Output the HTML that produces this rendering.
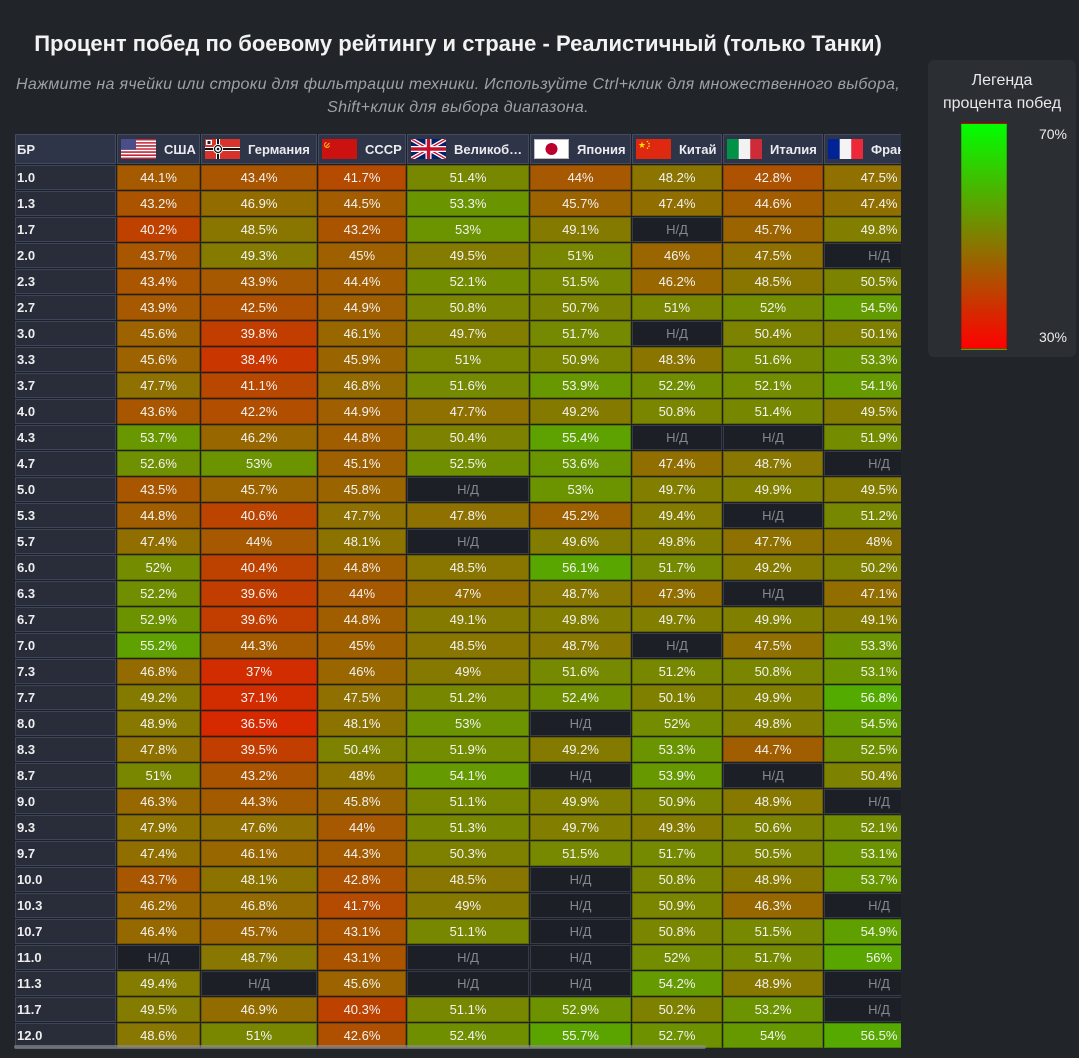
<!DOCTYPE html>
<html><head><meta charset="utf-8">
<style>
html,body{margin:0;padding:0;}
body{width:1079px;height:1058px;background:#212428;position:relative;overflow:hidden;font-family:"Liberation Sans","Noto Sans CJK SC",sans-serif;}
.title{position:absolute;left:0;top:31px;width:916px;text-align:center;font-weight:bold;font-size:22px;line-height:26px;color:#f2f2f2;white-space:nowrap;}
.sub{position:absolute;left:0;top:73px;width:916px;text-align:center;font-style:italic;font-size:16px;letter-spacing:0.3px;line-height:23px;color:#9ea1a7;white-space:nowrap;}
.g{position:absolute;left:15px;top:134px;width:886px;height:914px;overflow:hidden;display:grid;grid-template-columns:101px 83px 116px 88px 122px 101px 90px 100px 110px;grid-template-rows:30px;grid-auto-rows:25px;gap:1px;background:#1d2025;}
.g>div{box-sizing:border-box;border:1px solid rgba(0,0,0,.22);display:flex;align-items:center;justify-content:center;font-size:13px;color:#f3f3f3;white-space:nowrap;overflow:hidden;background:rgb(calc(6.375*(70 - var(--v))),calc(6.375*(var(--v) - 30)),0);}
.g>.h{background:#2f3548;border-color:#444b61;justify-content:flex-start;padding-left:3px;font-weight:bold;color:#ececf0;}
.g>.h svg{flex:none;margin-right:8px;display:block;}
.g>.h0{padding-left:1px;}
.g>.r{background:#292d3a;border-color:#3e4459;justify-content:flex-start;padding-left:1px;font-weight:bold;color:#eeeeee;}
.g>.na{background:#1c1f25;border-color:#363b4a;color:#85888e;}
.sb{position:absolute;left:14px;top:1045px;width:692px;height:4px;background:rgba(140,142,146,.65);border-radius:2px;}
.leg{position:absolute;left:928px;top:60px;width:148px;height:297px;background:#2b2e33;border-radius:6px;}
.legt{position:absolute;left:0;top:9px;width:148px;text-align:center;font-size:16px;line-height:23px;color:#e8e8e8;white-space:nowrap;}
.bar{position:absolute;left:33px;top:63px;width:46px;height:227px;box-sizing:border-box;border:1px solid rgba(0,0,0,.18);background:linear-gradient(#00ff00,#ff0000);}
.lab{position:absolute;right:9px;font-size:14px;color:#ececec;line-height:16px;}
</style></head><body>
<div class="title">Процент побед по боевому рейтингу и стране - Реалистичный (только Танки)</div>
<div class="sub">Нажмите на ячейки или строки для фильтрации техники. Используйте Ctrl+клик для множественного выбора,<br>Shift+клик для выбора диапазона.</div>

<div class="g">
<div class="h h0">БР</div>
<div class="h"><svg width="35" height="20" viewBox="0 0 35 20"><rect width="35" height="20" fill="#fff"/><path d="M0 0h35v1.54H0zM0 3.08h35v1.54H0zM0 6.15h35v1.54H0zM0 9.23h35v1.54H0zM0 12.3h35v1.54H0zM0 15.4h35v1.54H0zM0 18.46h35v1.54H0z" fill="#c0283a"/><rect width="15" height="10.8" fill="#4a4f8a"/></svg>США</div>
<div class="h"><svg width="35" height="20" viewBox="0 0 35 20"><rect width="35" height="20" fill="#d8332a"/><rect y="8" width="35" height="4" fill="#fff"/><rect x="11" width="4" height="20" fill="#fff"/><rect y="9" width="35" height="2" fill="#111"/><rect x="12" width="2" height="20" fill="#111"/><circle cx="13" cy="10" r="5" fill="#fff"/><circle cx="13" cy="10" r="3.5" fill="none" stroke="#111" stroke-width="1.2"/><circle cx="13" cy="10" r="1.3" fill="#111"/><rect x="1" y="1" width="6" height="5" fill="#fff"/><rect x="2.5" y="2" width="3" height="3" fill="#222"/></svg>Германия</div>
<div class="h"><svg width="35" height="20" viewBox="0 0 35 20"><rect width="35" height="20" fill="#cc1111"/><path d="M4 7.5l3.5-3.5" stroke="#f5c518" stroke-width="1"/><path d="M4.5 3.5a2.5 2.5 0 1 0 3 3" fill="none" stroke="#f5c518" stroke-width="0.9"/></svg>СССР</div>
<div class="h"><svg width="35" height="20" viewBox="0 0 35 20"><rect width="35" height="20" fill="#012169"/><path d="M0 0L35 20M35 0L0 20" stroke="#fff" stroke-width="4"/><path d="M0 0L35 20M35 0L0 20" stroke="#c8102e" stroke-width="1.4"/><path d="M17.5 0v20M0 10h35" stroke="#fff" stroke-width="6"/><path d="M17.5 0v20M0 10h35" stroke="#c8102e" stroke-width="3.4"/></svg>Великоб…</div>
<div class="h"><svg width="35" height="20" viewBox="0 0 35 20"><rect x="0.5" y="0.5" width="34" height="19" fill="#fff" stroke="#bbb"/><circle cx="17.5" cy="10" r="6" fill="#bc002d"/></svg>Япония</div>
<div class="h"><svg width="35" height="20" viewBox="0 0 35 20"><rect width="35" height="20" fill="#de2910"/><polygon points="6,2.5 6.8,5 9.3,5 7.3,6.5 8.1,9 6,7.5 3.9,9 4.7,6.5 2.7,5 5.2,5" fill="#ffde00"/><circle cx="11.5" cy="2.5" r="0.8" fill="#ffde00"/><circle cx="13" cy="4.6" r="0.8" fill="#ffde00"/><circle cx="13" cy="7.2" r="0.8" fill="#ffde00"/><circle cx="11.5" cy="9.2" r="0.8" fill="#ffde00"/></svg>Китай</div>
<div class="h"><svg width="35" height="20" viewBox="0 0 35 20"><rect width="11.7" height="20" fill="#009246"/><rect x="11.7" width="11.7" height="20" fill="#f1f2f1"/><rect x="23.3" width="11.7" height="20" fill="#ce2b37"/></svg>Италия</div>
<div class="h"><svg width="35" height="20" viewBox="0 0 35 20"><rect width="11.7" height="20" fill="#002395"/><rect x="11.7" width="11.7" height="20" fill="#f4f4f4"/><rect x="23.3" width="11.7" height="20" fill="#ed2939"/></svg>Франция</div>

<div class="r">1.0</div><div style="--v:44.1">44.1%</div><div style="--v:43.4">43.4%</div><div style="--v:41.7">41.7%</div><div style="--v:51.4">51.4%</div><div style="--v:44">44%</div><div style="--v:48.2">48.2%</div><div style="--v:42.8">42.8%</div><div style="--v:47.5">47.5%</div>
<div class="r">1.3</div><div style="--v:43.2">43.2%</div><div style="--v:46.9">46.9%</div><div style="--v:44.5">44.5%</div><div style="--v:53.3">53.3%</div><div style="--v:45.7">45.7%</div><div style="--v:47.4">47.4%</div><div style="--v:44.6">44.6%</div><div style="--v:47.4">47.4%</div>
<div class="r">1.7</div><div style="--v:40.2">40.2%</div><div style="--v:48.5">48.5%</div><div style="--v:43.2">43.2%</div><div style="--v:53">53%</div><div style="--v:49.1">49.1%</div><div class="na">Н/Д</div><div style="--v:45.7">45.7%</div><div style="--v:49.8">49.8%</div>
<div class="r">2.0</div><div style="--v:43.7">43.7%</div><div style="--v:49.3">49.3%</div><div style="--v:45">45%</div><div style="--v:49.5">49.5%</div><div style="--v:51">51%</div><div style="--v:46">46%</div><div style="--v:47.5">47.5%</div><div class="na">Н/Д</div>
<div class="r">2.3</div><div style="--v:43.4">43.4%</div><div style="--v:43.9">43.9%</div><div style="--v:44.4">44.4%</div><div style="--v:52.1">52.1%</div><div style="--v:51.5">51.5%</div><div style="--v:46.2">46.2%</div><div style="--v:48.5">48.5%</div><div style="--v:50.5">50.5%</div>
<div class="r">2.7</div><div style="--v:43.9">43.9%</div><div style="--v:42.5">42.5%</div><div style="--v:44.9">44.9%</div><div style="--v:50.8">50.8%</div><div style="--v:50.7">50.7%</div><div style="--v:51">51%</div><div style="--v:52">52%</div><div style="--v:54.5">54.5%</div>
<div class="r">3.0</div><div style="--v:45.6">45.6%</div><div style="--v:39.8">39.8%</div><div style="--v:46.1">46.1%</div><div style="--v:49.7">49.7%</div><div style="--v:51.7">51.7%</div><div class="na">Н/Д</div><div style="--v:50.4">50.4%</div><div style="--v:50.1">50.1%</div>
<div class="r">3.3</div><div style="--v:45.6">45.6%</div><div style="--v:38.4">38.4%</div><div style="--v:45.9">45.9%</div><div style="--v:51">51%</div><div style="--v:50.9">50.9%</div><div style="--v:48.3">48.3%</div><div style="--v:51.6">51.6%</div><div style="--v:53.3">53.3%</div>
<div class="r">3.7</div><div style="--v:47.7">47.7%</div><div style="--v:41.1">41.1%</div><div style="--v:46.8">46.8%</div><div style="--v:51.6">51.6%</div><div style="--v:53.9">53.9%</div><div style="--v:52.2">52.2%</div><div style="--v:52.1">52.1%</div><div style="--v:54.1">54.1%</div>
<div class="r">4.0</div><div style="--v:43.6">43.6%</div><div style="--v:42.2">42.2%</div><div style="--v:44.9">44.9%</div><div style="--v:47.7">47.7%</div><div style="--v:49.2">49.2%</div><div style="--v:50.8">50.8%</div><div style="--v:51.4">51.4%</div><div style="--v:49.5">49.5%</div>
<div class="r">4.3</div><div style="--v:53.7">53.7%</div><div style="--v:46.2">46.2%</div><div style="--v:44.8">44.8%</div><div style="--v:50.4">50.4%</div><div style="--v:55.4">55.4%</div><div class="na">Н/Д</div><div class="na">Н/Д</div><div style="--v:51.9">51.9%</div>
<div class="r">4.7</div><div style="--v:52.6">52.6%</div><div style="--v:53">53%</div><div style="--v:45.1">45.1%</div><div style="--v:52.5">52.5%</div><div style="--v:53.6">53.6%</div><div style="--v:47.4">47.4%</div><div style="--v:48.7">48.7%</div><div class="na">Н/Д</div>
<div class="r">5.0</div><div style="--v:43.5">43.5%</div><div style="--v:45.7">45.7%</div><div style="--v:45.8">45.8%</div><div class="na">Н/Д</div><div style="--v:53">53%</div><div style="--v:49.7">49.7%</div><div style="--v:49.9">49.9%</div><div style="--v:49.5">49.5%</div>
<div class="r">5.3</div><div style="--v:44.8">44.8%</div><div style="--v:40.6">40.6%</div><div style="--v:47.7">47.7%</div><div style="--v:47.8">47.8%</div><div style="--v:45.2">45.2%</div><div style="--v:49.4">49.4%</div><div class="na">Н/Д</div><div style="--v:51.2">51.2%</div>
<div class="r">5.7</div><div style="--v:47.4">47.4%</div><div style="--v:44">44%</div><div style="--v:48.1">48.1%</div><div class="na">Н/Д</div><div style="--v:49.6">49.6%</div><div style="--v:49.8">49.8%</div><div style="--v:47.7">47.7%</div><div style="--v:48">48%</div>
<div class="r">6.0</div><div style="--v:52">52%</div><div style="--v:40.4">40.4%</div><div style="--v:44.8">44.8%</div><div style="--v:48.5">48.5%</div><div style="--v:56.1">56.1%</div><div style="--v:51.7">51.7%</div><div style="--v:49.2">49.2%</div><div style="--v:50.2">50.2%</div>
<div class="r">6.3</div><div style="--v:52.2">52.2%</div><div style="--v:39.6">39.6%</div><div style="--v:44">44%</div><div style="--v:47">47%</div><div style="--v:48.7">48.7%</div><div style="--v:47.3">47.3%</div><div class="na">Н/Д</div><div style="--v:47.1">47.1%</div>
<div class="r">6.7</div><div style="--v:52.9">52.9%</div><div style="--v:39.6">39.6%</div><div style="--v:44.8">44.8%</div><div style="--v:49.1">49.1%</div><div style="--v:49.8">49.8%</div><div style="--v:49.7">49.7%</div><div style="--v:49.9">49.9%</div><div style="--v:49.1">49.1%</div>
<div class="r">7.0</div><div style="--v:55.2">55.2%</div><div style="--v:44.3">44.3%</div><div style="--v:45">45%</div><div style="--v:48.5">48.5%</div><div style="--v:48.7">48.7%</div><div class="na">Н/Д</div><div style="--v:47.5">47.5%</div><div style="--v:53.3">53.3%</div>
<div class="r">7.3</div><div style="--v:46.8">46.8%</div><div style="--v:37">37%</div><div style="--v:46">46%</div><div style="--v:49">49%</div><div style="--v:51.6">51.6%</div><div style="--v:51.2">51.2%</div><div style="--v:50.8">50.8%</div><div style="--v:53.1">53.1%</div>
<div class="r">7.7</div><div style="--v:49.2">49.2%</div><div style="--v:37.1">37.1%</div><div style="--v:47.5">47.5%</div><div style="--v:51.2">51.2%</div><div style="--v:52.4">52.4%</div><div style="--v:50.1">50.1%</div><div style="--v:49.9">49.9%</div><div style="--v:56.8">56.8%</div>
<div class="r">8.0</div><div style="--v:48.9">48.9%</div><div style="--v:36.5">36.5%</div><div style="--v:48.1">48.1%</div><div style="--v:53">53%</div><div class="na">Н/Д</div><div style="--v:52">52%</div><div style="--v:49.8">49.8%</div><div style="--v:54.5">54.5%</div>
<div class="r">8.3</div><div style="--v:47.8">47.8%</div><div style="--v:39.5">39.5%</div><div style="--v:50.4">50.4%</div><div style="--v:51.9">51.9%</div><div style="--v:49.2">49.2%</div><div style="--v:53.3">53.3%</div><div style="--v:44.7">44.7%</div><div style="--v:52.5">52.5%</div>
<div class="r">8.7</div><div style="--v:51">51%</div><div style="--v:43.2">43.2%</div><div style="--v:48">48%</div><div style="--v:54.1">54.1%</div><div class="na">Н/Д</div><div style="--v:53.9">53.9%</div><div class="na">Н/Д</div><div style="--v:50.4">50.4%</div>
<div class="r">9.0</div><div style="--v:46.3">46.3%</div><div style="--v:44.3">44.3%</div><div style="--v:45.8">45.8%</div><div style="--v:51.1">51.1%</div><div style="--v:49.9">49.9%</div><div style="--v:50.9">50.9%</div><div style="--v:48.9">48.9%</div><div class="na">Н/Д</div>
<div class="r">9.3</div><div style="--v:47.9">47.9%</div><div style="--v:47.6">47.6%</div><div style="--v:44">44%</div><div style="--v:51.3">51.3%</div><div style="--v:49.7">49.7%</div><div style="--v:49.3">49.3%</div><div style="--v:50.6">50.6%</div><div style="--v:52.1">52.1%</div>
<div class="r">9.7</div><div style="--v:47.4">47.4%</div><div style="--v:46.1">46.1%</div><div style="--v:44.3">44.3%</div><div style="--v:50.3">50.3%</div><div style="--v:51.5">51.5%</div><div style="--v:51.7">51.7%</div><div style="--v:50.5">50.5%</div><div style="--v:53.1">53.1%</div>
<div class="r">10.0</div><div style="--v:43.7">43.7%</div><div style="--v:48.1">48.1%</div><div style="--v:42.8">42.8%</div><div style="--v:48.5">48.5%</div><div class="na">Н/Д</div><div style="--v:50.8">50.8%</div><div style="--v:48.9">48.9%</div><div style="--v:53.7">53.7%</div>
<div class="r">10.3</div><div style="--v:46.2">46.2%</div><div style="--v:46.8">46.8%</div><div style="--v:41.7">41.7%</div><div style="--v:49">49%</div><div class="na">Н/Д</div><div style="--v:50.9">50.9%</div><div style="--v:46.3">46.3%</div><div class="na">Н/Д</div>
<div class="r">10.7</div><div style="--v:46.4">46.4%</div><div style="--v:45.7">45.7%</div><div style="--v:43.1">43.1%</div><div style="--v:51.1">51.1%</div><div class="na">Н/Д</div><div style="--v:50.8">50.8%</div><div style="--v:51.5">51.5%</div><div style="--v:54.9">54.9%</div>
<div class="r">11.0</div><div class="na">Н/Д</div><div style="--v:48.7">48.7%</div><div style="--v:43.1">43.1%</div><div class="na">Н/Д</div><div class="na">Н/Д</div><div style="--v:52">52%</div><div style="--v:51.7">51.7%</div><div style="--v:56">56%</div>
<div class="r">11.3</div><div style="--v:49.4">49.4%</div><div class="na">Н/Д</div><div style="--v:45.6">45.6%</div><div class="na">Н/Д</div><div class="na">Н/Д</div><div style="--v:54.2">54.2%</div><div style="--v:48.9">48.9%</div><div class="na">Н/Д</div>
<div class="r">11.7</div><div style="--v:49.5">49.5%</div><div style="--v:46.9">46.9%</div><div style="--v:40.3">40.3%</div><div style="--v:51.1">51.1%</div><div style="--v:52.9">52.9%</div><div style="--v:50.2">50.2%</div><div style="--v:53.2">53.2%</div><div class="na">Н/Д</div>
<div class="r">12.0</div><div style="--v:48.6">48.6%</div><div style="--v:51">51%</div><div style="--v:42.6">42.6%</div><div style="--v:52.4">52.4%</div><div style="--v:55.7">55.7%</div><div style="--v:52.7">52.7%</div><div style="--v:54">54%</div><div style="--v:56.5">56.5%</div>
</div>
<div class="sb"></div>

<div class="leg">
<div class="legt">Легенда<br>процента побед</div>
<div class="bar"></div>
<div class="lab" style="top:66px">70%</div>
<div class="lab" style="top:269px">30%</div>
</div>
</body></html>
